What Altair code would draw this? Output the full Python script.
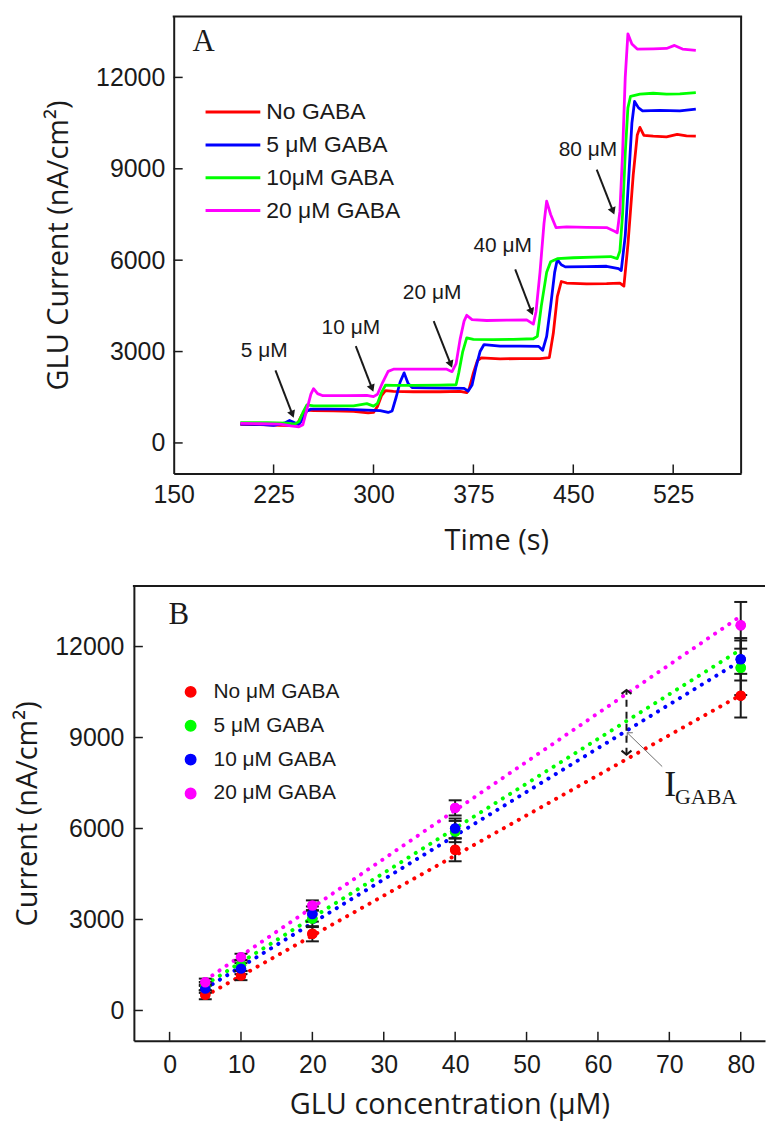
import altair as alt
import pandas as pd

# ---------------- Panel A : amperometric traces ----------------
A_SERIES = ["No GABA", "5 μM GABA", "10μM GABA", "20 μM GABA"]
A_COLORS = ["#ff0000", "#0000ff", "#00ff00", "#ff00ff"]

t_no = [200, 215, 230, 240, 243, 246, 249, 255, 270, 285, 296, 300, 303, 306, 309, 315, 330, 350, 365, 370,
        372, 375, 378, 381, 395, 410, 425, 432, 435, 438, 441, 445, 460, 475, 485, 488, 491, 495, 498, 500,
        503, 510, 520, 528, 535, 542]
v_no = [610, 600, 580, 570, 640, 900, 1080, 1060, 1050, 1040, 990, 1000, 1200, 1550, 1720, 1690, 1680, 1680, 1690, 1650,
        1800, 2300, 2700, 2790, 2760, 2770, 2770, 2800, 3600, 4800, 5300, 5250, 5220, 5230, 5250, 5150, 6500, 8800, 10100, 10360,
        10100, 10070, 10050, 10130, 10080, 10070]

t_5 = [200, 215, 225, 233, 237, 240, 244, 247, 250, 253, 265, 280, 295, 305, 311, 314, 317, 320, 323, 326,
       329, 340, 355, 368, 371, 374, 377, 380, 383, 395, 410, 424, 427, 430, 433, 436, 438, 441, 444, 460,
       475, 484, 486, 489, 492, 494, 496, 499, 502, 515, 530, 542]
v_5 = [620, 610, 580, 650, 740, 680, 600, 800, 1050, 1110, 1110, 1100, 1080, 1060, 1000, 1050, 1500, 2000, 2300, 1950,
       1820, 1810, 1800, 1790, 1700, 1900, 2500, 3000, 3230, 3180, 3180, 3170, 3040, 3500, 4500, 5600, 6020, 5850, 5780, 5790,
       5800, 5720, 5660, 6800, 9000, 10500, 11210, 11000, 10900, 10920, 10900, 10960]

t_10 = [200, 220, 235, 241, 244, 247, 250, 255, 270, 285, 295, 300, 303, 306, 309, 315, 330, 350, 362, 364,
        367, 370, 375, 390, 405, 420, 423, 426, 430, 433, 438, 450, 465, 478, 483, 485, 487, 489, 491, 493,
        500, 510, 520, 530, 542]
v_10 = [670, 670, 650, 620, 700, 1000, 1250, 1220, 1215, 1220, 1290, 1210, 1300, 1650, 1900, 1890, 1890, 1900, 1910, 2300,
        3000, 3450, 3400, 3390, 3400, 3420, 3500, 4500, 5600, 5950, 6050, 6080, 6100, 6120, 6050, 6300, 7500, 9500, 11000, 11380,
        11450, 11480, 11450, 11460, 11500]

t_20 = [200, 215, 230, 238, 244, 247, 250, 253, 255, 258, 262, 280, 295, 300, 303, 307, 311, 315, 330, 345,
        355, 359, 362, 365, 368, 370, 374, 385, 400, 415, 420, 422, 425, 428, 430, 433, 437, 445, 460, 475,
        481, 483, 485, 487, 489, 491, 494, 498, 510, 520, 526, 532, 542]
v_20 = [640, 630, 620, 560, 530, 600, 1100, 1600, 1780, 1620, 1550, 1550, 1560, 1520, 1600, 2000, 2350, 2420, 2420, 2420,
        2420, 2340, 2600, 3400, 4000, 4190, 4050, 4020, 4030, 4040, 3900, 4300, 5600, 7200, 7940, 7500, 7070, 7090, 7080, 7070,
        6950, 6900, 7600, 9500, 12000, 13430, 13100, 12930, 12940, 12950, 13050, 12930, 12890]

A_XTICKS = [150, 225, 300, 375, 450, 525]
A_YTICKS = [0, 3000, 6000, 9000, 12000]

CONC_LABELS = ["5 μM", "10 μM", "20 μM", "40 μM", "80 μM"]
CONC_T = [218, 283, 344, 397, 461]
CONC_V = [3020, 3780, 4930, 6460, 9630]
ARROW_T0 = [226.4, 286.7, 345.2, 406.4, 467.6]
ARROW_V0 = [2383, 3181, 4000, 5695, 8974]
ARROW_T1 = [239.1, 298.9, 358.0, 418.6, 479.8]
ARROW_V1 = [940, 1793, 2580, 4306, 7607]

# ---------------- Panel B : calibration ----------------
B_SERIES = ["No μM GABA", "5 μM GABA", "10 μM GABA", "20 μM GABA"]
B_COLORS = ["#ff0000", "#00ff00", "#0000ff", "#ff00ff"]
B_X = [5, 10, 20, 40, 80]
b_no = [520, 1150, 2530, 5300, 10380]
b_5 = [800, 1490, 3030, 5900, 11300]
b_10 = [720, 1380, 3180, 6000, 11580]
b_20 = [930, 1760, 3460, 6680, 12700]
e_no = [150, 150, 250, 380, 720]
e_5 = [140, 180, 280, 350, 900]
e_10 = [140, 180, 250, 330, 700]
e_20 = [120, 110, 170, 250, 770]

FIT_X = [5, 80]
fit_no = [480, 10400]
fit_5 = [850, 11900]
fit_10 = [720, 11530]
fit_20 = [1000, 13000]

B_XTICKS = [0, 10, 20, 30, 40, 50, 60, 70, 80]
B_YTICKS = [0, 3000, 6000, 9000, 12000]

IG_X = 64
IG_LO = 8437
IG_HI = 10570
IG_PTR_X0, IG_PTR_V0 = 69.0, 8043
IG_PTR_X1, IG_PTR_V1 = 64.1, 9159

# ---------------- styling ----------------
FONT_NUM = "Liberation Sans"
FONT_TITLE = "Open Sans"
FONT_SERIF = "Liberation Serif"
INK = "#1a1a1a"

# Both panels share the same plot origin (B's left edge); panel A's frame starts IN_A px further right.
IN_A = 40
W_A, H_A = 610, 459      # A frame spans IN_A .. W_A
W_B, H_B = 634, 457

# ---------------- build panel A ----------------
rows = []
for name, ts, vs in zip(A_SERIES, [t_no, t_5, t_10, t_20], [v_no, v_5, v_10, v_20]):
    for t, v in zip(ts, vs):
        rows.append({"series": name, "t": t, "v": v})
dfA = pd.DataFrame(rows)

xA = alt.Scale(domain=[150, 576], range=[IN_A, W_A], nice=False, zero=False)
yA = alt.Scale(domain=[-1000, 14000], nice=False, zero=False)

axis_xA = alt.Axis(values=A_XTICKS, format="d", tickSize=0, labelPadding=9, domain=True, domainColor=INK,
                   domainWidth=2, grid=False,
                   labelFont=FONT_NUM, labelFontSize=25, labelColor=INK, labelFlush=False, labelOverlap=False,
                   title="Time (s)", titleFont=FONT_TITLE, titleFontSize=29, titleFontWeight="normal",
                   titleColor=INK, titleX=364, titleY=53, titleAlign="center", titleBaseline="top")
axis_yA = alt.Axis(values=A_YTICKS, format="d", tickSize=0, labelPadding=9, offset=-IN_A, domain=True,
                   domainColor=INK, domainWidth=2, grid=False,
                   labelFont=FONT_NUM, labelFontSize=25, labelColor=INK, labelFlush=False, labelOverlap=False,
                   title="GLU Current (nA/cm²)", titleFont=FONT_TITLE, titleFontSize=29,
                   titleFontWeight="normal", titleColor=INK, titleX=-116, titleY=H_A / 2,
                   titleAlign="center", titleBaseline="middle", titleAngle=270)


def XA(field):
    return alt.X(field, type="quantitative", scale=xA, axis=axis_xA)


def YA(field):
    return alt.Y(field, type="quantitative", scale=yA, axis=axis_yA)


legendA = alt.Legend(orient="none", legendX=IN_A + 32, legendY=84.5, title=None, symbolType="M-2.3,0H8.7",
                     symbolSize=100, symbolStrokeWidth=3, labelFont=FONT_NUM, labelFontSize=23,
                     labelColor=INK, labelOffset=38, rowPadding=9, padding=0, symbolOffset=0, labelLimit=0)

linesA = alt.Chart(dfA).mark_line(strokeWidth=2.8, strokeJoin="round").encode(
    x=XA("t"), y=YA("v"),
    color=alt.Color("series:N", scale=alt.Scale(domain=A_SERIES, range=A_COLORS), legend=legendA),
)

ytickA = alt.Chart(pd.DataFrame({"v": A_YTICKS})).mark_rule(color=INK, strokeWidth=1.5).encode(
    y=YA("v"), x=alt.value(IN_A), x2=alt.value(IN_A + 9))
xtickA = alt.Chart(pd.DataFrame({"t": A_XTICKS[1:]})).mark_rule(color=INK, strokeWidth=1.5).encode(
    x=XA("t"), y=alt.value(H_A), y2=alt.value(H_A - 9))
# top and right sides of the A frame
frameTopA = alt.Chart(pd.DataFrame({"edge": ["top"]})).mark_rule(color=INK, strokeWidth=2).encode(
    x=alt.value(IN_A - 1), x2=alt.value(W_A + 1), y=alt.value(0))
frameRightA = alt.Chart(pd.DataFrame({"edge": ["right"]})).mark_rule(color=INK, strokeWidth=2).encode(
    x=alt.value(W_A), y=alt.value(0), y2=alt.value(H_A))

arrows = pd.DataFrame({"t0": ARROW_T0, "v0": ARROW_V0, "t1": ARROW_T1, "v1": ARROW_V1})
arrowA = alt.Chart(arrows).mark_rule(color=INK, strokeWidth=2).encode(
    x=XA("t0"), y=YA("v0"), x2="t1:Q", y2="v1:Q")
headA = alt.Chart(arrows).mark_point(shape="triangle-down", filled=True, color=INK, size=70,
                                     angle=338.6, opacity=1).encode(x=XA("t1"), y=YA("v1"))

concA = alt.Chart(pd.DataFrame({"t": CONC_T, "v": CONC_V, "s": CONC_LABELS})).mark_text(
    font=FONT_NUM, fontSize=21, color=INK, align="center", baseline="middle").encode(
    x=XA("t"), y=YA("v"), text="s:N")

letterA = alt.Chart(pd.DataFrame({"t": [172.4], "v": [13150], "s": ["A"]})).mark_text(
    font=FONT_SERIF, fontSize=31, color=INK, align="center", baseline="middle").encode(
    x=XA("t"), y=YA("v"), text="s:N")

panelA = alt.layer(linesA, ytickA, xtickA, frameTopA, frameRightA, arrowA, headA, concA, letterA).properties(
    width=W_A, height=H_A)

# ---------------- build panel B ----------------
prow = []
for name, vals, errs in zip(B_SERIES, [b_no, b_5, b_10, b_20], [e_no, e_5, e_10, e_20]):
    for x, v, e in zip(B_X, vals, errs):
        prow.append({"series": name, "x": x, "v": v, "err": e})
dfB = pd.DataFrame(prow)

frow = []
for name, vals in zip(B_SERIES, [fit_no, fit_5, fit_10, fit_20]):
    for x, v in zip(FIT_X, vals):
        frow.append({"series": name, "x": x, "v": v})
dfFit = pd.DataFrame(frow)

xB = alt.Scale(domain=[-5, 83.4], nice=False, zero=False)
yB = alt.Scale(domain=[-1000, 14000], nice=False, zero=False)

axis_xB = alt.Axis(values=B_XTICKS, format="d", tickSize=0, labelPadding=12, domain=True, domainColor=INK,
                   domainWidth=2, grid=False, labelFont=FONT_NUM, labelFontSize=25, labelColor=INK,
                   labelFlush=False, labelOverlap=False, title="GLU concentration (μM)", titleFont=FONT_TITLE,
                   titleFontSize=29, titleFontWeight="normal", titleColor=INK, titlePadding=13)
axis_yB = alt.Axis(values=B_YTICKS, format="d", tickSize=0, labelPadding=10, domain=True,
                   domainColor=INK, domainWidth=2, grid=False, labelFont=FONT_NUM, labelFontSize=25,
                   labelColor=INK, labelFlush=False, labelOverlap=False, title="Current (nA/cm²)",
                   titleFont=FONT_TITLE, titleFontSize=29, titleFontWeight="normal", titleColor=INK,
                   titlePadding=12)


def XB(field):
    return alt.X(field, type="quantitative", scale=xB, axis=axis_xB)


def YB(field):
    return alt.Y(field, type="quantitative", scale=yB, axis=axis_yB)


legendB = alt.Legend(orient="none", legendX=46.5, legendY=96, title=None, symbolType="circle",
                     symbolSize=110, labelFont=FONT_NUM, labelFontSize=21,
                     labelColor=INK, labelOffset=12.5, rowPadding=12, padding=0, symbolOffset=0, labelLimit=0)

ptsB = alt.Chart(dfB).mark_circle(size=110, opacity=1).encode(
    x=XB("x"), y=YB("v"),
    color=alt.Color("series:N", scale=alt.Scale(domain=B_SERIES, range=B_COLORS), legend=legendB))

fitB = alt.Chart(dfFit).mark_line(strokeWidth=4, strokeDash=[0.1, 8.5], strokeCap="round").encode(
    x=XB("x"), y=YB("v"),
    stroke=alt.Stroke("series:N", scale=alt.Scale(domain=B_SERIES, range=B_COLORS), legend=None),
)

errBase = alt.Chart(dfB).transform_calculate(lo="datum.v - datum.err", hi="datum.v + datum.err")
errRule = errBase.mark_rule(color=INK, strokeWidth=2).encode(x=XB("x"), y=YB("lo"), y2="hi:Q")
capLo = errBase.mark_tick(orient="horizontal", size=13, thickness=2, color=INK, opacity=1).encode(
    x=XB("x"), y=YB("lo"))
capHi = errBase.mark_tick(orient="horizontal", size=13, thickness=2, color=INK, opacity=1).encode(
    x=XB("x"), y=YB("hi"))

# points drawn again on top so that the dotted lines and bars sit underneath
ptsTop = alt.Chart(dfB).mark_circle(size=110, opacity=1).encode(
    x=XB("x"), y=YB("v"),
    fill=alt.Fill("series:N", scale=alt.Scale(domain=B_SERIES, range=B_COLORS), legend=None))

ig = pd.DataFrame({"x": [IG_X], "lo": [IG_LO], "hi": [IG_HI]})
igRule = alt.Chart(ig).mark_rule(color=INK, strokeWidth=2, strokeDash=[7, 5]).encode(
    x=XB("x"), y=YB("lo"), y2="hi:Q")
igTop = alt.Chart(ig).mark_point(shape="M-1,0.8L0,0L1,0.8", filled=False, color=INK, strokeWidth=2,
                                 size=100, opacity=1).encode(x=XB("x"), y=YB("hi"))
igBot = alt.Chart(ig).mark_point(shape="M-1,-0.8L0,0L1,-0.8", filled=False, color=INK, strokeWidth=2,
                                 size=100, opacity=1).encode(x=XB("x"), y=YB("lo"))

ptr = pd.DataFrame({"x0": [IG_PTR_X0], "v0": [IG_PTR_V0], "x1": [IG_PTR_X1], "v1": [IG_PTR_V1]})
ptrRule = alt.Chart(ptr).mark_rule(color="#6e6e6e", strokeWidth=1).encode(
    x=XB("x0"), y=YB("v0"), x2="x1:Q", y2="v1:Q")
ptrHead = alt.Chart(ptr).mark_point(shape="M-1,1L0,0L1,1", filled=False, color="#6e6e6e", strokeWidth=1,
                                    size=64, angle=315, opacity=1).encode(x=XB("x1"), y=YB("v1"))

igI = alt.Chart(pd.DataFrame({"x": [69.3], "v": [7059], "s": ["I"]})).mark_text(
    font=FONT_SERIF, fontSize=36, color=INK, align="left", baseline="alphabetic").encode(
    x=XB("x"), y=YB("v"), text="s:N")
igSub = alt.Chart(pd.DataFrame({"x": [70.8], "v": [6796], "s": ["GABA"]})).mark_text(
    font=FONT_SERIF, fontSize=22, color=INK, align="left", baseline="alphabetic").encode(
    x=XB("x"), y=YB("v"), text="s:N")

letterB = alt.Chart(pd.DataFrame({"x": [1.3], "v": [13032], "s": ["B"]})).mark_text(
    font=FONT_SERIF, fontSize=31, color=INK, align="center", baseline="middle").encode(
    x=XB("x"), y=YB("v"), text="s:N")

ytickB = alt.Chart(pd.DataFrame({"v": B_YTICKS})).mark_rule(color=INK, strokeWidth=1.5).encode(
    y=YB("v"), x=alt.value(0), x2=alt.value(9))
xtickB = alt.Chart(pd.DataFrame({"t": B_XTICKS})).mark_rule(color=INK, strokeWidth=1.5).encode(
    x=XB("t"), y=alt.value(H_B), y2=alt.value(H_B - 9))
# top frame line of panel B (right side is cut off in the original figure)
topB = alt.Chart(pd.DataFrame({"edge": ["top"]})).mark_rule(color=INK, strokeWidth=2).encode(
    x=alt.value(-1), x2=alt.value(W_B), y=alt.value(0))

panelB = alt.layer(ptsB, fitB, errRule, capLo, capHi, ptsTop, igRule, igTop, igBot, ptrRule, ptrHead,
                   igI, igSub, letterB, ytickB, xtickB, topB).properties(width=W_B, height=H_B)

chart = alt.vconcat(panelA, panelB, spacing=30).resolve_scale(
    color="independent", x="independent", y="independent", stroke="independent", fill="independent"
).resolve_legend(color="independent").properties(
    padding={"left": 13.5, "top": 13, "right": 0, "bottom": 0}, background="white"
).configure_view(stroke=None)

chart.save("out.html", embed_options={"renderer": "svg", "actions": False})
